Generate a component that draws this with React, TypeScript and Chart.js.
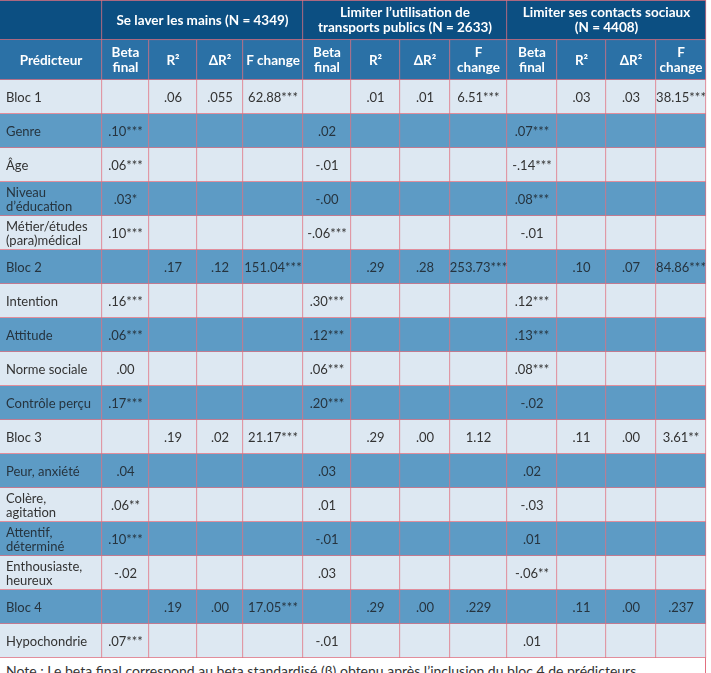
import React, { useEffect, useRef } from 'react';
import { Chart, registerables } from 'chart.js';

Chart.register(...registerables);

// ---------- data ----------
const groupTitles = [
  '',
  'Se laver les mains (N = 4349)',
  'Limiter l’utilisation de\ntransports publics (N = 2633)',
  'Limiter ses contacts sociaux\n(N = 4408)',
];
const columnTitles = [
  'Prédicteur', 'Beta\nfinal', 'R²', 'ΔR²', 'F change',
  'Beta\nfinal', 'R²', 'ΔR²', 'F\nchange',
  'Beta\nfinal', 'R²', 'ΔR²', 'F\nchange',
];
const predictors = [
  'Bloc 1', 'Genre', 'Âge', 'Niveau\nd’éducation', 'Métier/études\n(para)médical',
  'Bloc 2', 'Intention', 'Attitude', 'Norme sociale', 'Contrôle perçu',
  'Bloc 3', 'Peur, anxiété', 'Colère,\nagitation', 'Attentif,\ndéterminé', 'Enthousiaste,\nheureux',
  'Bloc 4', 'Hypochondrie',
];
const washBeta = ['', '.10***', '.06***', '.03*', '.10***', '', '.16***', '.06***', '.00', '.17***', '', '.04', '.06**', '.10***', '-.02', '', '.07***'];
const washR2 = ['.06', '', '', '', '', '.17', '', '', '', '', '.19', '', '', '', '', '.19', ''];
const washDR2 = ['.055', '', '', '', '', '.12', '', '', '', '', '.02', '', '', '', '', '.00', ''];
const washF = ['62.88***', '', '', '', '', '151.04***', '', '', '', '', '21.17***', '', '', '', '', '17.05***', ''];
const transBeta = ['', '.02', '-.01', '-.00', '-.06***', '', '.30***', '.12***', '.06***', '.20***', '', '.03', '.01', '-.01', '.03', '', '-.01'];
const transR2 = ['.01', '', '', '', '', '.29', '', '', '', '', '.29', '', '', '', '', '.29', ''];
const transDR2 = ['.01', '', '', '', '', '.28', '', '', '', '', '.00', '', '', '', '', '.00', ''];
const transF = ['6.51***', '', '', '', '', '253.73***', '', '', '', '', '1.12', '', '', '', '', '.229', ''];
const socBeta = ['', '.07***', '-.14***', '.08***', '-.01', '', '.12***', '.13***', '.08***', '-.02', '', '.02', '-.03', '.01', '-.06**', '', '.01'];
const socR2 = ['.03', '', '', '', '', '.10', '', '', '', '', '.11', '', '', '', '', '.11', ''];
const socDR2 = ['.03', '', '', '', '', '.07', '', '', '', '', '.00', '', '', '', '', '.00', ''];
const socF = ['38.15***', '', '', '', '', '84.86***', '', '', '', '', '3.61**', '', '', '', '', '.237', ''];
const noteText = 'Note : Le beta final correspond au beta standardisé (β) obtenu après l’inclusion du bloc 4 de prédicteurs';

const bodyColumns = [predictors, washBeta, washR2, washDR2, washF, transBeta, transR2, transDR2, transF, socBeta, socR2, socDR2, socF];

// ---------- layout / style ----------
const WIDTH = 711;
const COL_EDGES = [0, 102, 149, 197, 243, 303, 351, 400, 450, 507, 557, 606, 656, 706];
const GROUP_STARTS = [0, 1, 5, 9, 13];
const HEADER_H = 80;
const BODY_H = 578;
const LINE = '#e2707f';
const FONT = 'Lato, "Open Sans", sans-serif';

type CellText = { text: string; align: 'left' | 'center'; color: string; font: string; lh: number };

const textPlugin = {
  id: 'cellText',
  afterDatasetsDraw(chart: any) {
    const ctx = chart.ctx;
    chart.data.datasets.forEach((ds: any, i: number) => {
      const meta = chart.getDatasetMeta(i);
      meta.data.forEach((el: any, j: number) => {
        const cell: CellText | null = ds.cells ? ds.cells[j] : null;
        if (!cell || !cell.text) return;
        const p = el.getProps(['x', 'base', 'y'], true);
        const left = Math.min(p.x, p.base);
        const right = Math.max(p.x, p.base);
        const lines = cell.text.split('\n');
        ctx.save();
        ctx.font = cell.font;
        ctx.fillStyle = cell.color;
        ctx.textBaseline = 'middle';
        ctx.textAlign = cell.align;
        const tx = cell.align === 'left' ? left + 6 : (left + right) / 2;
        const y0 = p.y - ((lines.length - 1) * cell.lh) / 2;
        lines.forEach((ln, k) => ctx.fillText(ln, tx, y0 + k * cell.lh + 0.5));
        ctx.restore();
      });
    });
  },
};

function TableChart({ height, labels, datasets, bg, topBorder }: any) {
  const ref = useRef<HTMLCanvasElement>(null);
  useEffect(() => {
    if (!ref.current) return;
    const styled = datasets.map((ds: any) => ({
      ...ds,
      grouped: false,
      categoryPercentage: 1,
      barPercentage: 1,
      borderSkipped: false,
      borderColor: LINE,
      backgroundColor: ds.data.map((_: any, j: number) => bg(j)),
      borderWidth: ds.data.map((_: any, j: number) => ({ top: topBorder && j === 0 ? 1 : 0, right: 1, bottom: 1, left: 0 })),
    }));
    const chart = new Chart(ref.current, {
      type: 'bar',
      data: { labels, datasets: styled },
      options: {
        indexAxis: 'y',
        responsive: false,
        animation: false,
        maintainAspectRatio: false,
        layout: { padding: 0 },
        scales: {
          x: { type: 'linear', min: 0, max: WIDTH, display: false },
          y: { type: 'category', display: false },
        },
        plugins: { legend: { display: false }, tooltip: { enabled: false }, colors: { enabled: false } },
      } as any,
      plugins: [textPlugin],
    });
    return () => chart.destroy();
  }, []);
  return <canvas ref={ref} width={WIDTH} height={height} style={{ display: 'block', width: WIDTH, height }} />;
}

const headerFont = `bold 13.5px ${FONT}`;
const bodyFont = `13px ${FONT}`;

function buildHeader() {
  return columnTitles.map((title, c) => {
    const g = GROUP_STARTS.indexOf(c);
    const isStart = g >= 0 && g < 4;
    const row0 = isStart ? [COL_EDGES[c], COL_EDGES[GROUP_STARTS[g + 1]]] : null;
    const row1 = [COL_EDGES[c], COL_EDGES[c + 1]];
    return {
      data: [row0, row1],
      cells: [
        isStart ? { text: groupTitles[g], align: 'center', color: '#ffffff', font: headerFont, lh: 15 } : null,
        { text: title, align: 'center', color: '#ffffff', font: headerFont, lh: 15 },
      ],
    };
  });
}

function buildBody() {
  return bodyColumns.map((col, c) => ({
    data: col.map(() => [COL_EDGES[c], COL_EDGES[c + 1]]),
    cells: col.map((t, j) => ({
      text: t,
      align: c === 0 ? 'left' : 'center',
      color: j % 2 === 0 ? '#333333' : '#26343f',
      font: bodyFont,
      lh: 14,
    })),
  }));
}

export default function App() {
  return (
    <div style={{ position: 'absolute', left: 0, top: 0, width: WIDTH, background: '#ffffff' }}>
      <TableChart
        height={HEADER_H}
        labels={['groupes', 'colonnes']}
        datasets={buildHeader()}
        bg={(j: number) => (j === 0 ? '#0c4f82' : '#2b71a6')}
        topBorder={true}
      />
      <TableChart
        height={BODY_H}
        labels={predictors}
        datasets={buildBody()}
        bg={(j: number) => (j % 2 === 0 ? '#dde8f2' : '#5d9bc5')}
        topBorder={false}
      />
      <div
        style={{
          boxSizing: 'border-box',
          width: COL_EDGES[COL_EDGES.length - 1],
          height: 40,
          borderRight: `1px solid ${LINE}`,
          padding: '4px 0 0 6px',
          font: `14px ${FONT}`,
          color: '#333333',
          whiteSpace: 'nowrap',
          overflow: 'hidden',
        }}
      >
        {noteText}
      </div>
    </div>
  );
}
